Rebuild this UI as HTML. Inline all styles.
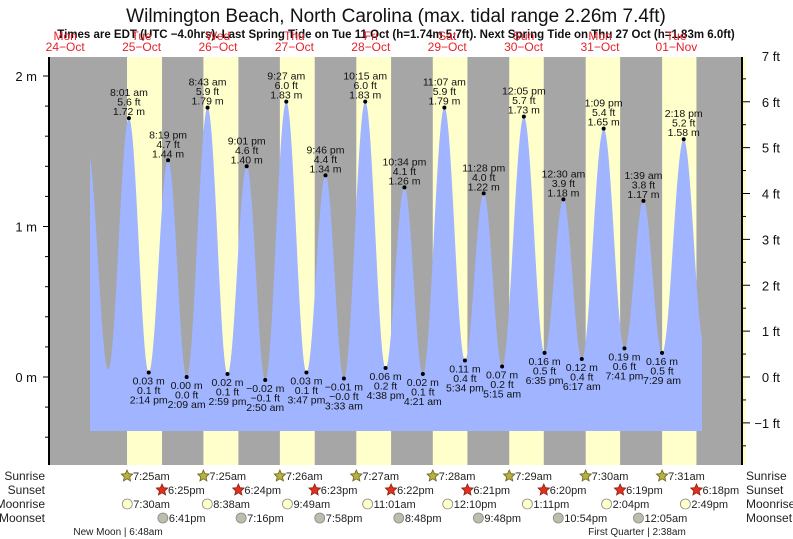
<!DOCTYPE html>
<html><head><meta charset="utf-8"><style>
body{margin:0;background:#fff;}
svg{display:block;font-family:"Liberation Sans",Arial,sans-serif;}
</style></head><body>
<svg id="chart" width="793" height="539" viewBox="0 0 793 539" xmlns="http://www.w3.org/2000/svg">
<text x="396" y="22" font-size="19" text-anchor="middle" fill="#111">Wilmington Beach, North Carolina (max. tidal range 2.26m 7.4ft)</text>
<text x="396" y="38" font-size="11.5" font-weight="bold" text-anchor="middle" fill="#111">Times are EDT (UTC −4.0hrs). Last Spring Tide on Tue 11 Oct (h=1.74m 5.7ft). Next Spring Tide on Thu 27 Oct (h=1.83m 6.0ft)</text>
<g id="bg"></g>
<g id="tide"></g>
<g id="axes"></g>
<g id="labels" font-size="10.5" fill="#111" text-anchor="middle"></g>
<g id="astro" font-size="11" fill="#222"></g>
</svg>
<script>
const dayNames=["Mon","Tue","Wed","Thu","Fri","Sat","Sun","Mon","Tue"];
const dayDates=["24−Oct","25−Oct","26−Oct","27−Oct","28−Oct","29−Oct","30−Oct","31−Oct","01−Nov"];
const sunrise=[null,"7:25am","7:25am","7:26am","7:27am","7:28am","7:29am","7:30am","7:31am"];
const sunset=[null,"6:25pm","6:24pm","6:23pm","6:22pm","6:21pm","6:20pm","6:19pm","6:18pm"];
const moonrise=[null,"7:30am","8:38am","9:49am","11:01am","12:10pm","1:11pm","2:04pm","2:49pm"];
const moonset=[null,"6:41pm","7:16pm","7:58pm","8:48pm","9:48pm","10:54pm",null,"12:05am"];
// tide extremes: day index (0 = Mon 24 Oct), time, height m, labelled?
const tideDay=[0,1,1,1,1,2,2,2,2,3,3,3,3,4,4,4,4,5,5,5,5,6,6,6,7,7,7,7,8,8,8,8];
const tideTime=["7:05pm","1:30am","8:01am","2:14pm","8:19pm","2:09am","8:43am","2:59pm","9:01pm","2:50am","9:27am","3:47pm","9:46pm","3:33am","10:15am","4:38pm","10:34pm","4:21am","11:07am","5:34pm","11:28pm","5:15am","12:05pm","6:35pm","12:30am","6:17am","1:09pm","7:41pm","1:39am","7:29am","2:18pm","8:40pm"];
const tideHeight=[1.50,0.05,1.72,0.03,1.44,0.00,1.79,0.02,1.40,-0.02,1.83,0.03,1.34,-0.01,1.83,0.06,1.26,0.02,1.79,0.11,1.22,0.07,1.73,0.16,1.18,0.12,1.65,0.19,1.17,0.16,1.58,0.22];
const tideLabelled=[0,0,1,1,1,1,1,1,1,1,1,1,1,1,1,1,1,1,1,1,1,1,1,1,1,1,1,1,1,1,1,0];
const yTicksM=[0,1,2];
const yTicksFt=[-1,0,1,2,3,4,5,6,7];

const X0=27, PXH=76.4/24, TOP=57, BOT=465, LEFT=49, RIGHT=742, Y0=377, PXM=150.5;
const BLUE_L=90, BLUE_R=702, BLUE_B=431;
const NS="http://www.w3.org/2000/svg";
function parseT(s){const m=s.match(/(\d+):(\d+)(am|pm)/);let h=+m[1]%12;if(m[3]=="pm")h+=12;return h+ +m[2]/60;}
function xOf(day,s){return X0+(day*24+parseT(s))*PXH;}
function yOf(m){return Y0-m*PXM;}
function el(tag,attrs,parent,txt){const e=document.createElementNS(NS,tag);for(const k in attrs)e.setAttribute(k,attrs[k]);if(txt!=null)e.textContent=txt;parent.appendChild(e);return e;}
const bg=document.getElementById('bg'),tide=document.getElementById('tide'),axes=document.getElementById('axes'),labels=document.getElementById('labels'),astro=document.getElementById('astro'),svg=document.getElementById('chart');

let r=el('rect',{x:LEFT,y:TOP,width:RIGHT-LEFT,height:BOT-TOP,fill:'#a6a6a6'},bg);

for(let d=0;d<dayNames.length;d++){
  if(sunrise[d]){const x1=xOf(d,sunrise[d]),x2=xOf(d,sunset[d]);
    const s=el('rect',{x:x1,y:TOP,width:x2-x1,height:BOT-TOP,fill:'#ffffcc'},bg);
    }
  const cx=X0+(d*24+12)*PXH;
  const t1=el('text',{x:cx,y:51,'font-size':12,fill:'#e8202a','text-anchor':'middle'},svg,dayDates[d]);
  
  const t2=el('text',{x:cx,y:39+0,'font-size':12,fill:'#e8202a','text-anchor':'middle'},svg,dayNames[d]);
  t2.setAttribute('y',40);
  
}
// tide curve
const ex=tideDay.map((d,i)=>({x:xOf(d,tideTime[i]),h:tideHeight[i]}));
function hAt(x){for(let i=0;i<ex.length-1;i++){if(x>=ex[i].x&&x<=ex[i+1].x){const f=(x-ex[i].x)/(ex[i+1].x-ex[i].x);return ex[i].h+(ex[i+1].h-ex[i].h)*(1-Math.cos(Math.PI*f))/2;}}return ex[ex.length-1].h;}
let pts=[BLUE_L+","+BLUE_B];
for(let x=BLUE_L;x<=BLUE_R;x+=0.5){pts.push(x.toFixed(1)+","+Math.min(BLUE_B,yOf(hAt(x))).toFixed(1));}
pts.push(BLUE_R+","+BLUE_B);
const poly=el('polygon',{points:pts.join(" "),fill:'#a0b4ff'},tide);

// labels
tideDay.forEach((d,i)=>{
  if(!tideLabelled[i])return;
  const x=xOf(d,tideTime[i]),y=yOf(tideHeight[i]);
  const dot=el('circle',{cx:x,cy:y,r:2,fill:'#000'},labels);
  
  const h=tideHeight[i],ft=(h/0.3048).toFixed(1).replace('-','−'),m=h.toFixed(2).replace('-','−')+' m';
  const tm=tideTime[i].replace(/(am|pm)/,' $1');
  const high=h>0.6;
  const lines=high?[[tm,-22],[ft+' ft',-12.5],[m,-3]]:[[m,12],[ft+' ft',21.5],[tm,31]];
  lines.forEach(l=>{const t=el('text',{x:x,y:y+l[1]},labels,l[0]);
    });
});
// axes
let a=el('line',{x1:LEFT,y1:TOP,x2:LEFT,y2:BOT,stroke:'#000','stroke-width':2},axes);

a=el('line',{x1:RIGHT,y1:TOP,x2:RIGHT,y2:BOT,stroke:'#000','stroke-width':2},axes);

a=el('rect',{x:RIGHT+1,y:TOP,width:3,height:BOT-TOP,fill:'#ffffcc'},axes);

for(let v=-0.4;v<=2.21;v+=0.2){const y=yOf(v);if(y<TOP||y>BOT)continue;
  const t=el('line',{x1:LEFT-(Math.abs(v-Math.round(v))<0.01?6:4),y1:y,x2:LEFT,y2:y,stroke:'#000'},axes);
  }
yTicksM.forEach(v=>{const t=el('text',{x:37,y:yOf(v)+5,'font-size':13,'text-anchor':'end',fill:'#111'},axes,v+' m');
  });
for(let v=-1.5;v<=7.01;v+=0.5){const y=yOf(v*0.3048);if(y<TOP-1||y>BOT)continue;
  const t=el('line',{x1:RIGHT,y1:y,x2:RIGHT+(v%1==0?8:4),y2:y,stroke:'#000'},axes);
  }
yTicksFt.forEach(v=>{const t=el('text',{x:780,y:yOf(v*0.3048)+5,'font-size':13,'text-anchor':'end',fill:'#111'},axes,(v<0?'−'+(-v):v)+' ft');
  });
// astro rows
const rows=[["Sunrise",476],["Sunset",490],["Moonrise",504],["Moonset",518]];
rows.forEach(rw=>{
  let t=el('text',{x:45,y:rw[1]+4,'text-anchor':'end','font-size':12},astro,rw[0]);
  
  t=el('text',{x:746,y:rw[1]+4,'font-size':12},astro,rw[0]);
  
});
function star(cx,cy,fill,stroke){let p=[];for(let k=0;k<10;k++){const ang=-Math.PI/2+k*Math.PI/5,rr=k%2?2.8:6;p.push((cx+rr*Math.cos(ang)).toFixed(1)+","+(cy+rr*Math.sin(ang)).toFixed(1));}
  return el('polygon',{points:p.join(" "),fill:fill,stroke:stroke,'stroke-width':0.8},astro);}
function entry(list,row,kind){list.forEach((s,d)=>{if(!s)return;const x=xOf(d,s),y=rows[row][1];
  let ic;
  if(kind==0)ic=star(x,y,'#b8b040','#6a6420');
  else if(kind==1)ic=star(x,y,'#e03020','#902010');
  else ic=el('circle',{cx:x,cy:y,r:5,fill:kind==2?'#ffffcc':'#bdbdae',stroke:'#888','stroke-width':0.8},astro);
  
  
  const t=el('text',{x:x+6,y:y+4},astro,s);
  
  });}
entry(sunrise,0,0);entry(sunset,1,1);entry(moonrise,2,2);entry(moonset,3,3);
let mp=el('text',{x:118,y:535,'text-anchor':'middle','font-size':10},astro,'New Moon | 6:48am');

mp=el('text',{x:637,y:535,'text-anchor':'middle','font-size':10},astro,'First Quarter | 2:38am');

</script>
</body></html>
